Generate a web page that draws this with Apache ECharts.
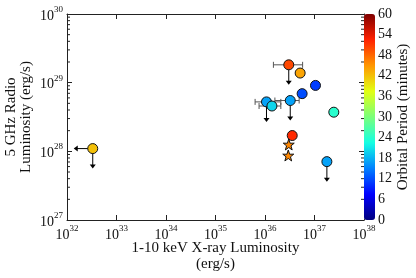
<!DOCTYPE html>
<html><head><meta charset="utf-8">
<script src="https://cdn.jsdelivr.net/npm/echarts@6/dist/echarts.min.js"></script>
<style>html,body{margin:0;padding:0;background:#fff}#c{width:416px;height:278px}</style>
</head><body><div id="c"></div>
<script>
// log10 of 1-10 keV X-ray luminosity (erg/s)
const circleLogLx = [36.48, 36.71, 37.02, 36.75, 36.51, 36.03, 36.14, 37.39, 36.55, 37.25, 32.52];
// log10 of 5 GHz radio luminosity (erg/s)
const circleLogLr = [29.26, 29.14, 28.96, 28.84, 28.74, 28.72, 28.66, 28.57, 28.23, 27.85, 28.04];
// orbital period (minutes)
const circlePeriod = [50, 44, 11, 12, 17, 17, 20, 24, 52, 17, 42];
// x error bars (log10), null where none
const circleXLo = [36.17, null, null, null, 36.20, 35.80, 35.88, null, null, null, null];
const circleXHi = [36.76, null, null, null, 36.69, 36.32, 36.32, null, null, null, null];
// upper limits
const radioUpperLimit = [1, 0, 0, 0, 1, 1, 0, 0, 0, 1, 1];
const xrayUpperLimit  = [0, 0, 0, 0, 0, 0, 0, 0, 0, 0, 1];
// star markers
const starLogLx = [36.48, 36.47];
const starLogLr = [28.10, 27.94];
const starPeriod = [46, 46];
// axis ticks
const xTicks = [32, 33, 34, 35, 36, 37, 38];
const yTicks = [27, 28, 29, 30];
const cbarTicks = [0, 6, 12, 18, 24, 30, 36, 42, 48, 54, 60];
const minorFactors = [2, 3, 4, 5, 6, 7, 8, 9];

const FONT = 'Liberation Serif';
const TXT = '#111';
const jet = ['#00007f','#0000ff','#0080ff','#14ffe3','#7aff7a','#e2ff14','#ff9600','#ff2100','#7f0000'];

const minorX = [];
for (let i = 0; i < xTicks.length - 1; i++) minorFactors.forEach(f => minorX.push(xTicks[i] + Math.log10(f)));
const minorY = [];
for (let i = 0; i < yTicks.length - 1; i++) minorFactors.forEach(f => minorY.push(yTicks[i] + Math.log10(f)));

const circles = circleLogLx.map((x, i) => [x, circleLogLr[i], circlePeriod[i]]);
const stars = starLogLx.map((x, i) => [x, starLogLr[i], starPeriod[i]]);
const extras = circleLogLx.map((x, i) => [x, circleLogLr[i], circleXLo[i], circleXHi[i], radioUpperLimit[i], xrayUpperLimit[i]]);
const minorData = minorX.map(v => ['x', v]).concat(minorY.map(v => ['y', v]));

const powLabel = v => '{b|10}{s|' + v + '}';
const rich = {
  b: {fontFamily: FONT, fontSize: 14, color: TXT, verticalAlign: 'bottom', lineHeight: 18},
  s: {fontFamily: FONT, fontSize: 9, color: TXT, verticalAlign: 'top', lineHeight: 18, padding: [0, 0, 8, 0]}
};
const frame = {show: true, lineStyle: {color: '#222', width: 1}};

const starPath = 'path://M50,0 L61.8,35.1 L97.6,34.5 L69,56.7 L79.4,90.5 L50,70 L20.6,90.5 L31,56.7 L2.4,34.5 L38.2,35.1 Z';

const chart = echarts.init(document.getElementById('c'), null, {renderer: 'canvas'});
chart.setOption({
  animation: false,
  grid: [
    {left: 67, top: 14, width: 297, height: 206, containLabel: false, outerBoundsMode: 'none'},
    {left: 364, top: 14, width: 11, height: 206, containLabel: false, outerBoundsMode: 'none'}
  ],
  xAxis: [
    {type: 'value', gridIndex: 0, min: 32, max: 38, interval: 1, position: 'bottom',
     axisLine: frame, axisTick: {inside: true, length: 5, lineStyle: {color: '#222'}},
     splitLine: {show: false},
     axisLabel: {formatter: powLabel, rich: rich, margin: 4},
     name: '1-10 keV X-ray Luminosity\n(erg/s)', nameLocation: 'middle', nameGap: 20,
     nameMoveOverlap: false,
     nameTextStyle: {fontFamily: FONT, fontSize: 15, color: TXT, lineHeight: 16}},
    {type: 'value', gridIndex: 0, min: 32, max: 38, interval: 1, position: 'top',
     axisLine: frame, axisTick: {inside: true, length: 5, lineStyle: {color: '#222'}},
     splitLine: {show: false}, axisLabel: {show: false}},
    {type: 'value', gridIndex: 1, min: 0, max: 1, show: false}
  ],
  yAxis: [
    {type: 'value', gridIndex: 0, min: 27, max: 30, interval: 1, position: 'left',
     axisLine: frame, axisTick: {inside: true, length: 5, lineStyle: {color: '#222'}},
     splitLine: {show: false},
     axisLabel: {formatter: powLabel, rich: rich, margin: 4},
     name: '5 GHz Radio\nLuminosity (erg/s)', nameLocation: 'middle', nameGap: 33, nameRotate: 90,
     nameMoveOverlap: false,
     nameTextStyle: {fontFamily: FONT, fontSize: 15, color: TXT, lineHeight: 15}},
    {type: 'value', gridIndex: 0, min: 27, max: 30, interval: 1, position: 'right',
     axisLine: frame, axisTick: {inside: true, length: 5, lineStyle: {color: '#222'}},
     splitLine: {show: false}, axisLabel: {show: false}},
    {type: 'value', gridIndex: 1, min: 0, max: 60, interval: 6, position: 'right',
     axisLine: {show: false}, axisTick: {show: false}, splitLine: {show: false},
     axisLabel: {margin: 3, fontFamily: FONT, fontSize: 14, color: TXT},
     name: 'Orbital Period (minutes)', nameLocation: 'middle', nameGap: 20, nameRotate: 90,
     nameTextStyle: {fontFamily: FONT, fontSize: 15, color: TXT}}
  ],
  visualMap: {
    type: 'continuous', min: 0, max: 60, dimension: 2, seriesIndex: [2, 3],
    inRange: {color: jet}, calculable: false, text: null, showLabel: false,
    left: 364, top: 14, itemWidth: 11, itemHeight: 206, padding: 0, hoverLink: false,
    borderWidth: 0
  },
  series: [
    {type: 'custom', xAxisIndex: 0, yAxisIndex: 0, data: minorData, z: 1, silent: true,
     renderItem: (params, api) => {
       const kind = api.value(0);
       const v = api.value(1);
       const st = {stroke: '#222', lineWidth: 1};
       if (kind === 'x') {
         const b = api.coord([v, 27]), t = api.coord([v, 30]);
         return {type: 'group', children: [
           {type: 'line', shape: {x1: b[0], y1: b[1], x2: b[0], y2: b[1] - 3}, style: st},
           {type: 'line', shape: {x1: t[0], y1: t[1], x2: t[0], y2: t[1] + 3}, style: st}]};
       }
       const l = api.coord([32, v]), r = api.coord([38, v]);
       return {type: 'group', children: [
         {type: 'line', shape: {x1: l[0], y1: l[1], x2: l[0] + 3, y2: l[1]}, style: st},
         {type: 'line', shape: {x1: r[0], y1: r[1], x2: r[0] - 3, y2: r[1]}, style: st}]};
     }},
    {type: 'custom', xAxisIndex: 0, yAxisIndex: 0, data: extras, z: 2, silent: true,
     dimensions: ['x', 'y', 'lo', 'hi', 'ulr', 'ulx'],
     renderItem: (params, api) => {
       const c = api.coord([api.value(0), api.value(1)]);
       const lo = api.value(2), hi = api.value(3);
       const kids = [];
       const eb = {stroke: '#555', lineWidth: 1};
       if (lo != null && !isNaN(lo) && hi != null && !isNaN(hi)) {
         const a = api.coord([lo, api.value(1)]), b = api.coord([hi, api.value(1)]);
         kids.push({type: 'line', shape: {x1: a[0], y1: a[1], x2: b[0], y2: b[1]}, style: eb});
         kids.push({type: 'line', shape: {x1: a[0], y1: a[1] - 3, x2: a[0], y2: a[1] + 3}, style: eb});
         kids.push({type: 'line', shape: {x1: b[0], y1: b[1] - 3, x2: b[0], y2: b[1] + 3}, style: eb});
       }
       const ar = {stroke: '#000', lineWidth: 1};
       if (api.value(4) === 1) {
         const L = 20;
         kids.push({type: 'line', shape: {x1: c[0], y1: c[1], x2: c[0], y2: c[1] + L - 3}, style: ar});
         kids.push({type: 'polygon', shape: {points: [[c[0] - 3, c[1] + L - 4], [c[0] + 3, c[1] + L - 4], [c[0], c[1] + L]]}, style: {fill: '#000'}});
       }
       if (api.value(5) === 1) {
         const L = 19;
         kids.push({type: 'line', shape: {x1: c[0], y1: c[1], x2: c[0] - L + 3, y2: c[1]}, style: ar});
         kids.push({type: 'polygon', shape: {points: [[c[0] - L + 4, c[1] - 3], [c[0] - L + 4, c[1] + 3], [c[0] - L, c[1]]]}, style: {fill: '#000'}});
       }
       return {type: 'group', children: kids};
     }},
    {type: 'scatter', xAxisIndex: 0, yAxisIndex: 0, data: circles, symbol: 'circle', symbolSize: 10, z: 3,
     itemStyle: {borderColor: '#111', borderWidth: 1, opacity: 1}},
    {type: 'scatter', xAxisIndex: 0, yAxisIndex: 0, data: stars, symbol: starPath, symbolSize: 11, z: 3,
     itemStyle: {borderColor: '#111', borderWidth: 1, opacity: 1}}
  ]
});
</script>
</body></html>
